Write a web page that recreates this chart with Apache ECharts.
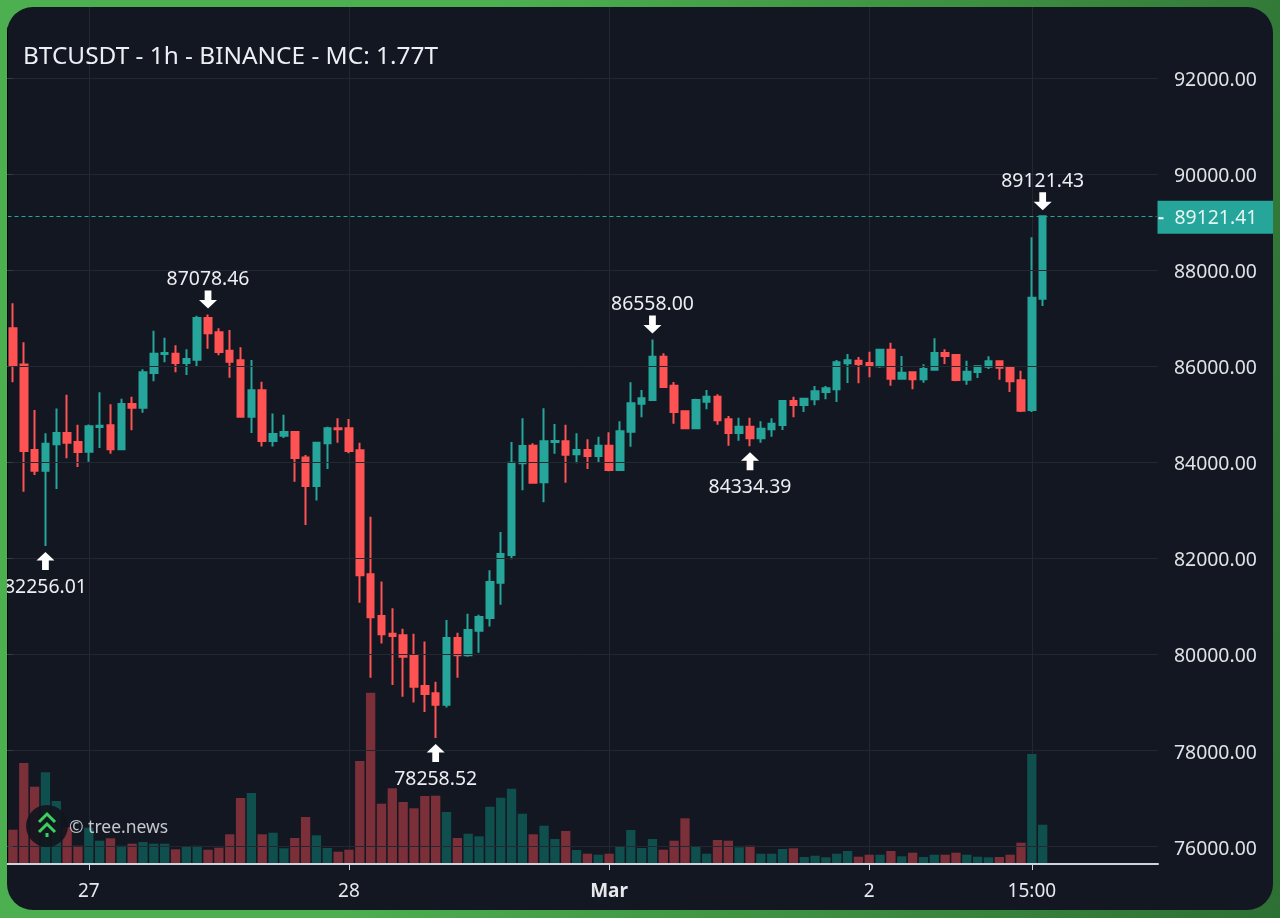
<!DOCTYPE html>
<html>
<head>
<meta charset="utf-8">
<title>BTCUSDT</title>
<script src="https://cdn.jsdelivr.net/npm/echarts@6/dist/echarts.min.js"></script>
<style>
html, body { margin: 0; width: 1280px; height: 918px; overflow: hidden; }
body { background: linear-gradient(100deg, #4caf50 35%, #2e6f33 100%); }
#panel { position: absolute; left: 7px; top: 7px; width: 1266px; height: 903px; border-radius: 26px; overflow: hidden; background: #131722; }
#chart { width: 1266px; height: 903px; }
</style>
</head>
<body>
<div id="panel"><div id="chart"></div></div>
<script>
// 1h candles
var opens = [86788,86038,84255,83825,84373,84609,84422,84220,84734,84769,84269,85213,85136,85858,86254,86260,86066,86136,87003,86705,86323,86122,84949,85497,84442,84553,84630,84102,83506,84394,84706,84706,84248,81667,80800,80432,80397,79967,79342,79190,78954,80342,79981,80494,80758,81493,82069,83978,84345,83582,84422,84436,84165,84255,84130,84345,83839,84637,85220,85297,86199,85595,85061,84707,85262,85366,84894,84610,84741,84499,84686,84776,85276,85193,85310,85463,85519,86060,86115,86067,85997,86344,85741,85873,85727,85928,86275,86233,85720,85880,85991,86102,85984,85706,85088,87405];
var closes = [86025,84234,83825,84387,84609,84408,84213,84748,84762,84269,85213,85136,85872,86260,86274,86066,86149,87003,86684,86295,86094,84949,85497,84442,84588,84630,84088,83506,84408,84706,84685,84234,81646,80772,80418,80383,79953,79328,79176,78954,80342,79981,80508,80779,81507,82090,83991,84338,83575,84436,84443,84158,84255,84130,84345,83839,84644,85227,85331,86199,85567,85047,84707,85297,85366,84873,84610,84741,84499,84700,84804,85276,85193,85324,85477,85540,86081,86122,86046,86011,86344,85741,85866,85727,85942,86275,86213,85713,85886,85997,86102,85970,85685,85075,87426,89121.41];
var lows = [85664,83388,83735,82256.01,83443,84082,83901,84012,84297,84179,84262,84665,85032,85685,86080,85872,85816,85997,86365,86226,85761,84935,84609,84331,84331,84505,83596,82694,83207,83860,84408,84186,81077,79516,80230,79363,79120,79002,78801,78258.52,78898,79516,79953,80036,80584,81035,81979,83416,83561,83166,84179,83575,83978,83860,83991,83811,83825,84325,84936,85283,85553,84804,84707,84707,85102,84783,84346,84450,84334.39,84408,84533,84672,84936,85047,85186,85310,85255,85651,85644,85768,85970,85595,85741,85519,85657,85907,86046,85685,85616,85755,85942,85720,85463,85047,85047,87253];
var highs = [87308,86496,85088,84602,85122,85407,84782,84789,85456,85206,85324,85365,85934,86739,86594,86434,86351,87052,87078.46,86788,86753,86392,86129,85678,85018,84991,84637,84151,84415,84741,84914,84900,84408,82867,81521,80959,80536,80432,80272,79432,80716,80452,80848,80827,81750,82548,84422,84914,84394,85123,84796,84783,84602,84477,84533,84623,84852,85664,85505,86558,86268,85671,85068,85324,85505,85415,84964,84929,84929,84853,84915,85290,85366,85330,85588,85588,86129,86254,86192,86303,86358,86490,86213,85886,86039,86580,86351,86247,86115,86004,86206,86110,85991,85907,88683,89121.43];
var volumes = [3430,10100,7730,9170,6300,3670,1830,3630,2330,2570,1830,2030,2200,2030,2030,1470,1730,1830,1430,1630,2970,6600,7100,2970,3130,1570,2600,4700,2870,1600,1230,1430,10300,17130,6030,7570,6200,5570,6800,6830,5200,2600,3030,2770,5730,6630,7530,5030,2970,3830,2500,3300,1400,1030,930,1030,1770,3400,1600,2500,1430,2330,4570,1700,1030,2400,2330,1670,1830,1030,1030,1500,1570,700,830,670,1030,1300,730,930,930,1300,770,1130,700,930,930,1130,930,730,670,700,930,2130,11000,3930];

var tickPositions = [7, 31, 55, 79, 94];
var tickLabels = ['27', '28', 'Mar', '2', '15:00'];
var priceTicks = [76000, 78000, 80000, 82000, 84000, 86000, 88000, 90000, 92000];
var emptyBars = 10;

// marked highs and lows: bar index, price, direction
var markIndex = [3, 18, 39, 59, 68, 95];
var markPrice = [82256.01, 87078.46, 78258.52, 86558.00, 84334.39, 89121.43];
var markIsLow = [true, false, true, false, true, false];
var lastPrice = 89121.41;

var titleText = 'BTCUSDT - 1h - BINANCE - MC: 1.77T';
var watermark = '© tree.news';

var upColor = '#26a69a';
var downColor = '#ff5252';
var fontName = '"Noto Sans", sans-serif';
var priceMin = 75638, priceMax = 93477;
var arrowDown = 'path://M5 0H11V9H16L8 17L0 9H5Z';
var arrowUp = 'path://M8 0L16 8H11V17H5V8H0Z';

var categories = [];
for (var i = 0; i < opens.length + emptyBars; i++) categories.push('');
tickPositions.forEach(function (p, k) { categories[p] = tickLabels[k]; });

var candles = opens.map(function (o, k) { return [o, closes[k], lows[k], highs[k]]; });
var volumeBars = volumes.map(function (v, k) {
    return { value: v, itemStyle: { color: closes[k] >= opens[k] ? '#0f4f4d' : '#7b2f38' } };
});
var marks = markIndex.map(function (idx, k) {
    var low = markIsLow[k];
    return {
        coord: [idx, markPrice[k]],
        value: markPrice[k].toFixed(2),
        symbol: low ? arrowUp : arrowDown,
        symbolOffset: [0, low ? 15 : -15],
        label: { position: low ? 'bottom' : 'top', distance: low ? 8 : 1 }
    };
});
function isTick(idx) { return tickPositions.indexOf(idx) >= 0; }

var chart = echarts.init(document.getElementById('chart'));
chart.setOption({
    animation: false,
    textStyle: { fontFamily: fontName },
    title: {
        text: titleText, left: 11, top: 33,
        textStyle: { color: '#eceff4', fontSize: 24.4, fontWeight: 'normal', fontFamily: fontName }
    },
    grid: [
        { left: 0.5, top: 0, width: 1149, height: 857 },
        { left: 0, top: 0, width: 1151, height: 857 }
    ],
    xAxis: [{
        type: 'category', gridIndex: 0, data: categories, boundaryGap: true,
        axisLine: { show: false },
        axisTick: { show: true, interval: function (i) { return isTick(i); }, alignWithLabel: true, length: 6, lineStyle: { color: '#cfd3dc', width: 1 } },
        splitLine: { show: true, interval: function (i) { return isTick(i); }, alignWithLabel: true, lineStyle: { color: '#232730', width: 1 } },
        axisLabel: {
            interval: function (i) { return isTick(i); }, color: '#e6e8ec', fontSize: 19, margin: 18, hideOverlap: false,
            formatter: function (v) { return v === 'Mar' ? '{b|Mar}' : v; },
            rich: { b: { fontWeight: 'bold', fontSize: 19, color: '#e6e8ec' } }
        }
    }, {
        type: 'value', gridIndex: 1, min: 0, max: 1, z: 5,
        axisLine: { show: true, onZero: false, lineStyle: { color: '#cfd3dc', width: 2 } },
        axisTick: { show: false }, axisLabel: { show: false }, splitLine: { show: false }
    }],
    yAxis: [
        { type: 'value', gridIndex: 0, min: priceMin, max: priceMax, show: false, splitLine: { show: false } },
        { type: 'value', gridIndex: 0, min: 0, max: 85700, show: false, splitLine: { show: false } },
        {
            type: 'value', gridIndex: 1, min: priceMin, max: priceMax, position: 'right', z: 5,
            axisLine: { show: true, lineStyle: { color: '#000', width: 2 } },
            axisTick: { show: true, customValues: priceTicks, length: 6, lineStyle: { color: '#3a3e48' } },
            splitLine: { show: true, lineStyle: { color: '#232730', width: 1 } },
            axisLabel: {
                customValues: priceTicks, margin: 16,
                formatter: function (v) { return '{p|' + v.toFixed(2) + '}'; },
                rich: { p: { color: '#e0e2e6', fontSize: 19.4, fontFamily: fontName, padding: [5, 0, 0, 0] } }
            }
        }
    ],
    graphic: [
        { type: 'circle', shape: { cx: 40, cy: 819, r: 21 }, style: { fill: 'rgba(17,21,29,0.92)' }, z: 20 },
        { type: 'polyline', shape: { points: [[32, 815], [40, 807], [48, 815]] }, style: { stroke: '#3ecf5e', lineWidth: 3, fill: null }, z: 21 },
        { type: 'polyline', shape: { points: [[32, 825], [40, 817], [48, 825]] }, style: { stroke: '#3ecf5e', lineWidth: 3, fill: null }, z: 21 },
        { type: 'rect', shape: { x: 38.5, y: 826, width: 3, height: 4 }, style: { fill: '#3ecf5e' }, z: 21 },
        { type: 'text', x: 62, y: 812, style: { text: watermark, fill: '#c4c7cc', fontSize: 17.5, fontFamily: fontName }, z: 21 }
    ],
    series: [{
        type: 'bar', name: 'Volume', xAxisIndex: 0, yAxisIndex: 1, data: volumeBars, barWidth: '86%', z: 1
    }, {
        type: 'candlestick', name: 'BTCUSDT', xAxisIndex: 0, yAxisIndex: 0, data: candles, barWidth: 7, z: 3,
        itemStyle: { color: upColor, color0: downColor, borderColor: upColor, borderColor0: downColor, borderWidth: 2 },
        markPoint: {
            symbolSize: [18, 18],
            label: { show: true, color: '#eceef2', fontSize: 19.4, fontFamily: fontName, formatter: '{c}' },
            itemStyle: { color: '#fff' },
            data: marks
        },
        markLine: {
            silent: true, symbol: 'none',
            lineStyle: { color: upColor, type: [4, 3], width: 1 },
            label: {
                show: true, position: 'end', distance: 1, backgroundColor: upColor, color: '#e4f5f3',
                padding: [8, 18, 6, 1], offset: [0, 1],
                formatter: '{t|}{v|' + lastPrice.toFixed(2) + '}',
                rich: {
                    t: { width: 5, height: 2, backgroundColor: '#fff' },
                    v: { color: '#e4f5f3', fontSize: 19.4, fontFamily: fontName, padding: [0, 0, 0, 11] }
                }
            },
            data: [{ yAxis: lastPrice }]
        }
    }]
});
</script>
</body>
</html>
